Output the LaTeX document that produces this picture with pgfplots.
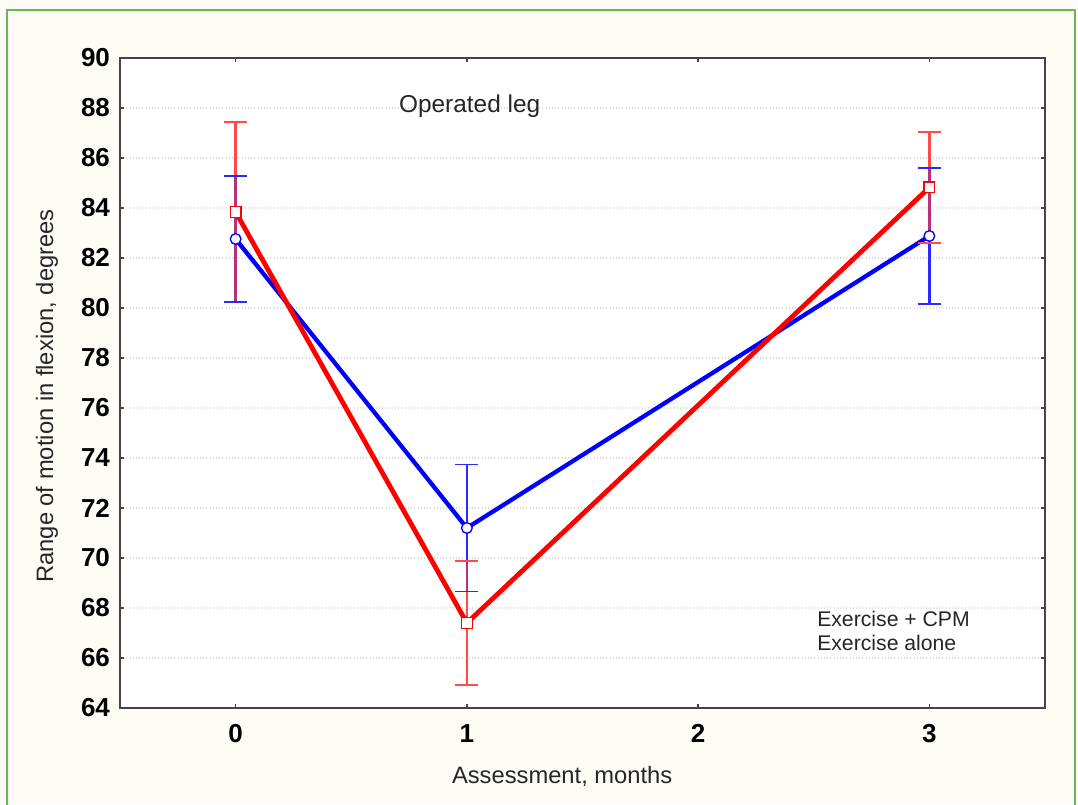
\documentclass[border=0pt]{standalone}
\usepackage{pgfplots}
\pgfplotsset{compat=1.18}
\usepackage{fontspec}
\setmainfont{Liberation Sans}
\definecolor{bgcream}{HTML}{FEFCF5}
\definecolor{frameg}{HTML}{62BB55}
\definecolor{ebred}{HTML}{FF4A4A}
\definecolor{ebblue}{HTML}{2A2AFF}
\definecolor{ebpurple}{HTML}{B8307A}
\definecolor{axgray}{HTML}{444444}
\begin{document}
\begin{tikzpicture}[x=0.75pt,y=0.75pt]
\useasboundingbox (0,0) rectangle (1078,804);
\fill[bgcream] (0,0) rectangle (1078,804);
\draw[frameg, line width=1.6pt] (7,-20) rectangle (1075,794);
\begin{axis}[
  at={(90pt,72pt)}, anchor=south west,
  scale only axis, width=693.75pt, height=487.5pt,
  xmin=-0.5, xmax=3.5, ymin=64, ymax=90,
  xtick={0,1,2,3}, ytick={64,66,...,90},
  axis background/.style={fill=white},
  axis line style={axgray, line width=1.2pt},
  tick style={axgray, line width=1pt},
  major tick length=3pt,
  tick align=inside,
  ymajorgrids,
  grid style={dotted, gray!30, line width=0.8pt},
  /pgf/number format/assume math mode=true,
  ticklabel style={font=\fontsize{19.5}{22}\selectfont\bfseries, text=black},
  yticklabel style={xshift=-4pt},
  xticklabel style={yshift=-9pt},
  xlabel={Assessment, months},
  ylabel={Range of motion in flexion, degrees},
  label style={font=\fontsize{17.8}{20}\selectfont, text=black!85},
  xlabel style={at={(axis description cs:0.478,-0.105)}, anchor=center},
  ylabel style={at={(axis description cs:-0.079,0.48)}, anchor=center},
  clip=false,
  unbounded coords=jump,
]
% error bars: red (Exercise alone), mean 83.84/67.40/84.82, +- 3.60/2.48/2.22
\addplot[draw=ebred, line width=1.7pt, mark=none, forget plot]
  coordinates {(0,80.24) (0,87.44) (0,nan) (1,64.92) (1,69.88) (1,nan) (3,82.60) (3,87.04)};
\addplot[draw=ebred, only marks, mark=-, mark size=8.6pt, mark options={draw=ebred, line width=1.3pt}, forget plot]
  coordinates {(0,80.24) (0,87.44) (1,64.92) (1,69.88) (3,82.60) (3,87.04)};
% error bars: blue (Exercise + CPM), mean 82.76/71.20/82.88, +- 2.52/2.54/2.72
\addplot[draw=ebblue, line width=1.7pt, mark=none, forget plot]
  coordinates {(0,80.24) (0,85.28) (0,nan) (1,68.66) (1,73.74) (1,nan) (3,80.16) (3,85.60)};
\addplot[draw=ebblue, only marks, mark=-, mark size=8.6pt, mark options={draw=ebblue, line width=1.3pt}, forget plot]
  coordinates {(0,80.24) (0,85.28) (1,68.66) (1,73.74) (3,80.16) (3,85.60)};
% overlapping parts of the two bars
\addplot[draw=ebpurple, line width=1.7pt, mark=none, forget plot]
  coordinates {(0,80.24) (0,85.28) (0,nan) (1,68.66) (1,69.88) (1,nan) (3,82.60) (3,85.60)};
% lines
\addplot[blue, line width=3.2pt, mark=*, mark size=4pt,
  mark options={fill=white, draw=blue, line width=1pt, solid}]
  coordinates {(0,82.76) (1,71.2) (3,82.88)};
\addplot[red, line width=3.6pt, mark=square*, mark size=4pt,
  mark options={fill=white, draw=red, line width=1pt, solid}]
  coordinates {(0,83.84) (1,67.4) (3,84.82)};
\node[font=\fontsize{18.3}{21}\selectfont, text=black!85, anchor=center]
  at (axis description cs:0.378,0.926) {Operated leg};
\node[font=\fontsize{15.9}{18}\selectfont, text=black!85, anchor=west, inner sep=0pt]
  at (axis description cs:0.7535,0.137) {Exercise + CPM};
\node[font=\fontsize{15.9}{18}\selectfont, text=black!85, anchor=west, inner sep=0pt]
  at (axis description cs:0.7535,0.100) {Exercise alone};
\end{axis}
\end{tikzpicture}
\end{document}
